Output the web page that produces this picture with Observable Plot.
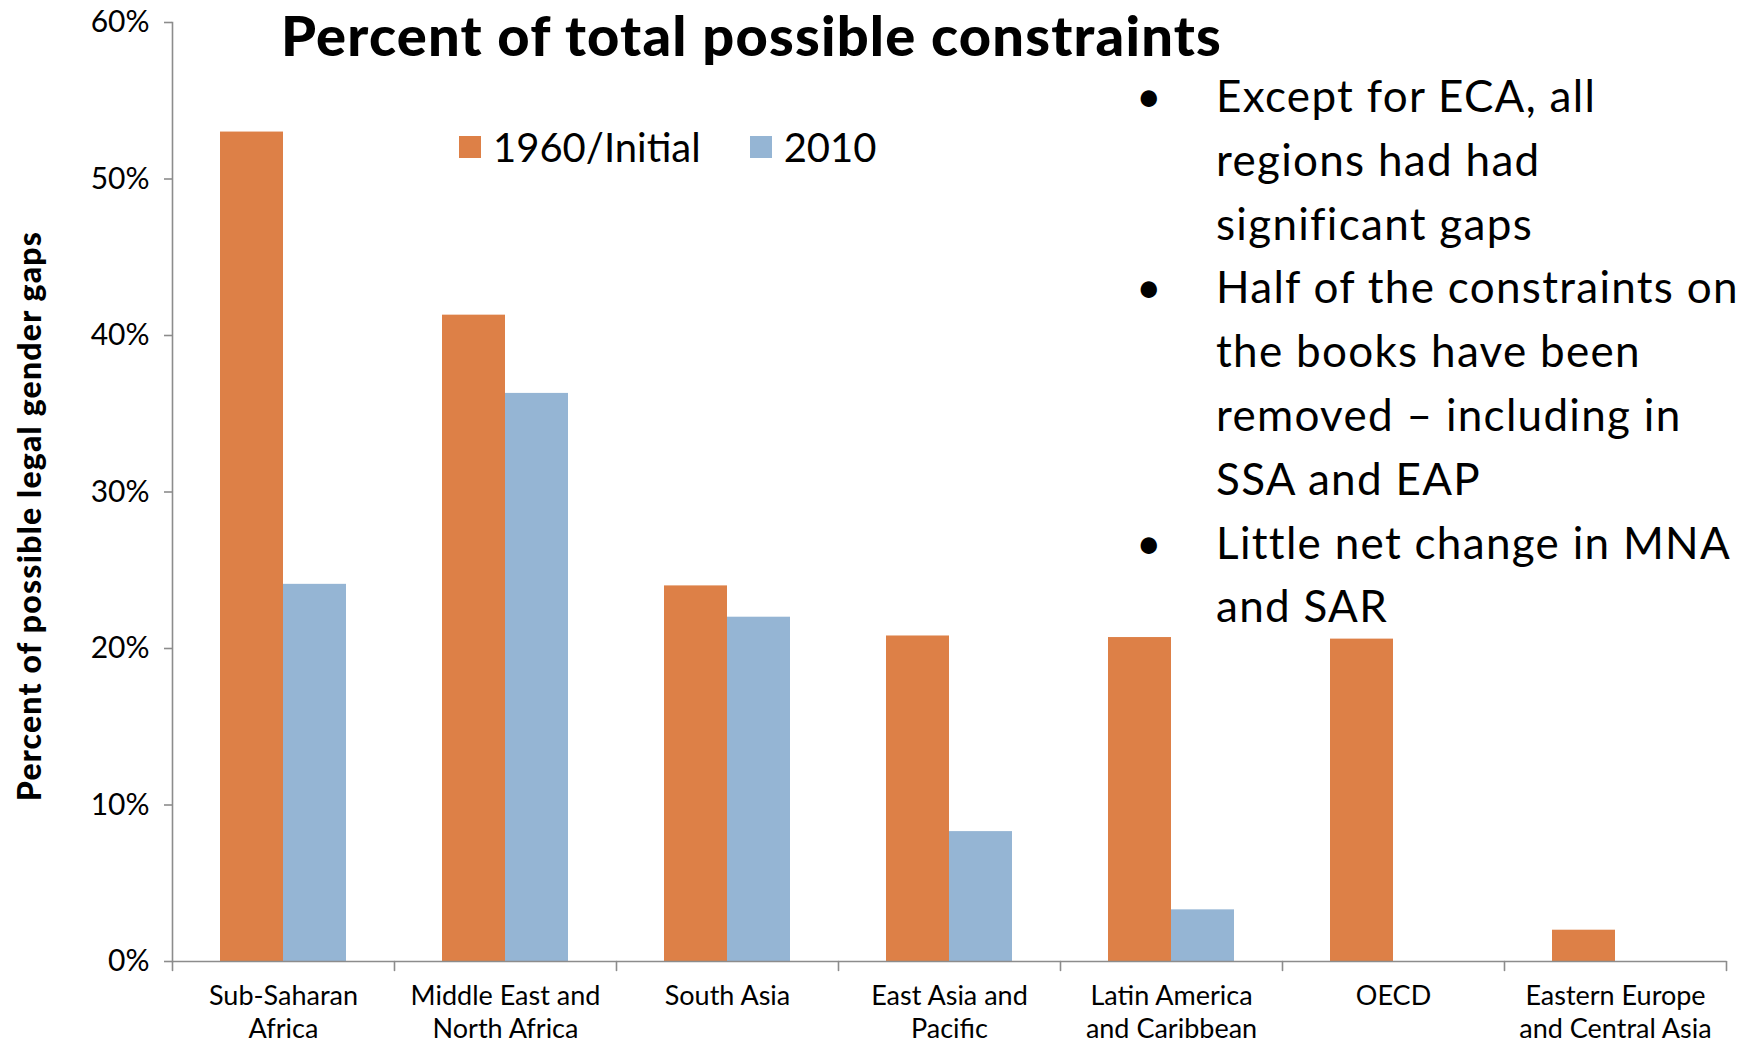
<!DOCTYPE html>
<html>
<head>
<meta charset="utf-8">
<script src="https://cdn.jsdelivr.net/npm/d3@7"></script>
<script src="https://cdn.jsdelivr.net/npm/@observablehq/plot@0.6"></script>
<style>
  html, body { margin: 0; padding: 0; background: #fff; }
  #wrap { position: relative; width: 1748px; height: 1045px; overflow: hidden; font-family: Lato, "Open Sans", sans-serif; color: #000; }
  #chart { position: absolute; left: 0; top: 0; }
  .title { position: absolute; left: 281px; top: 7px; font-size: 56px; line-height: 56px; font-weight: 900; white-space: nowrap; letter-spacing: 1.2px; }
  .ylabel { position: absolute; left: 28px; top: 516px; transform: translate(-50%, -50%) rotate(-90deg); font-size: 32px; font-weight: 900; white-space: nowrap; letter-spacing: 1.2px; }
  .legend { position: absolute; left: 459px; top: 123px; display: flex; align-items: center; font-size: 40px; white-space: nowrap; }
  .legend .sw { width: 22px; height: 22px; display: inline-block; margin-right: 12px; }
  .legend .item { display: flex; align-items: center; margin-right: 49px; }
  .notes { position: absolute; left: 1136px; top: 64px; font-size: 44px; line-height: 63.8px; letter-spacing: 1.3px; }
  .notes .b { position: relative; padding-left: 80px; white-space: nowrap; }
  .notes .b::before { content: "•"; position: absolute; left: 0; }
</style>
</head>
<body>
<div id="wrap">
  <div id="chart"></div>
  <div class="title">Percent of total possible constraints</div>
  <div class="ylabel">Percent of possible legal gender gaps</div>
  <div class="legend" id="legend"></div>
  <div class="notes" id="notes"></div>
</div>
<script>
const regions = ["Sub-Saharan Africa", "Middle East and North Africa", "South Asia", "East Asia and Pacific", "Latin America and Caribbean", "OECD", "Eastern Europe and Central Asia"];
const tickLabels = ["Sub-Saharan\nAfrica", "Middle East and\nNorth Africa", "South Asia", "East Asia and\nPacific", "Latin America\nand Caribbean", "OECD", "Eastern Europe\nand Central Asia"];
const series = ["1960/Initial", "2010"];
const values1960 = [0.530, 0.413, 0.240, 0.208, 0.207, 0.206, 0.020];
const values2010 = [0.241, 0.363, 0.220, 0.083, 0.033, 0, 0];
const colors = ["#DD8047", "#95B5D4"];
const yTicks = [0, 0.1, 0.2, 0.3, 0.4, 0.5, 0.6];
const notes = [
  ["Except for ECA, all", "regions had had", "significant gaps"],
  ["Half of the constraints on", "the books have been", "removed \u2013 including in", "SSA and EAP"],
  ["Little net change in MNA", "and SAR"]
];

const data = [];
regions.forEach((r, i) => {
  data.push({region: r, series: series[0], value: values1960[i]});
  data.push({region: r, series: series[1], value: values2010[i]});
});

const axisGray = "#8c8c8c";
const tickShape = {draw(context, l) { context.moveTo(0, 0); context.lineTo(0, -l); }};

const chart = Plot.plot({
  width: 1748,
  height: 1045,
  marginLeft: 171,
  marginRight: 22,
  marginTop: 22,
  marginBottom: 84,
  style: {fontFamily: "Lato, 'Open Sans', sans-serif", color: "#000", background: "transparent"},
  fx: {domain: regions, paddingInner: 0, paddingOuter: 0, label: null},
  x: {domain: series, paddingInner: 0, paddingOuter: 0.75, axis: null},
  y: {domain: [0, 0.6], label: null},
  color: {domain: series, range: colors},
  marks: [
    Plot.barY(data, {fx: "region", x: "series", y: "value", fill: "series"}),
    Plot.ruleY([0], {stroke: axisGray, strokeWidth: 1.6}),
    Plot.frame({anchor: "left", facet: "super", stroke: axisGray, strokeWidth: 1.6}),
    Plot.vector(regions, {fx: d => d, frameAnchor: "bottom-left", length: 9, rotate: 180, anchor: "start", stroke: axisGray, strokeWidth: 1.6, shape: tickShape}),
    Plot.vector(regions.slice(-1), {fx: d => d, frameAnchor: "bottom-right", length: 9, rotate: 180, anchor: "start", stroke: axisGray, strokeWidth: 1.6, shape: tickShape}),
    Plot.axisY({ticks: yTicks, tickFormat: d3.format(".0%"), tickSize: 8, tickPadding: 15, fontSize: 30, stroke: axisGray, strokeWidth: 1.6, label: null}),
    Plot.axisFx({anchor: "bottom", tickSize: 0, tickPadding: 20, fontSize: 27, lineHeight: 1.22, label: null,
      tickFormat: d => tickLabels[regions.indexOf(d)]})
  ]
});
document.getElementById("chart").appendChild(chart);

const legend = document.getElementById("legend");
series.forEach((s, i) => {
  const item = document.createElement("div");
  item.className = "item";
  const sw = document.createElement("span");
  sw.className = "sw";
  sw.style.background = colors[i];
  const t = document.createElement("span");
  t.textContent = s;
  item.appendChild(sw);
  item.appendChild(t);
  legend.appendChild(item);
});

const notesEl = document.getElementById("notes");
notes.forEach(lines => {
  const b = document.createElement("div");
  b.className = "b";
  b.innerHTML = lines.map(l => l.replace(/&/g, "&amp;").replace(/</g, "&lt;")).join("<br>");
  notesEl.appendChild(b);
});
</script>
</body>
</html>
